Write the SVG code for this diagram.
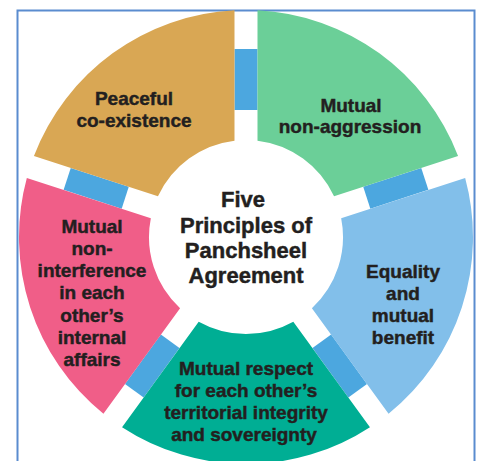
<svg xmlns="http://www.w3.org/2000/svg" xmlns:xlink="http://www.w3.org/1999/xlink" width="477" height="461" viewBox="0 0 477 461">
  <style>
    .lbl { font-family: "Liberation Sans", Arial, sans-serif; font-weight: bold; font-size: 19px; fill: #231F20; stroke: #231F20; stroke-width: 0.45px; text-anchor: middle; }
    .ctr { font-size: 22px; }
    .bar { fill: #4CA7DF; }
  </style>
  <defs>
    <path id="seg" d="M 257.5 10.29 A 227 227 0 0 1 458.06 156.00 L 334.05 196.30 A 97 97 0 0 0 257.5 140.68 Z"/>
    <rect id="barShape" x="234.5" y="49" width="23" height="61"/>
    <rect id="barShapeLow" x="234.5" y="47" width="23" height="61"/>
  </defs>
  <rect x="0" y="0" width="477" height="461" fill="#FFFFFF"/>
  <rect x="17.5" y="10.5" width="457" height="470" fill="#FFFFFF" stroke="#5A8CCF" stroke-width="2"/>

  <g id="connectors">
    <use xlink:href="#barShape" class="bar"/>
    <use xlink:href="#barShape" class="bar" transform="rotate(72 246 237)"/>
    <use xlink:href="#barShapeLow" class="bar" transform="rotate(144 246 237)"/>
    <use xlink:href="#barShapeLow" class="bar" transform="rotate(216 246 237)"/>
    <use xlink:href="#barShape" class="bar" transform="rotate(288 246 237)"/>
  </g>

  <g id="node-non-aggression">
    <use xlink:href="#seg" fill="#6BCF98"/>
    <text class="lbl" x="351" y="112">Mutual</text>
    <text class="lbl" x="350" y="133">non-aggression</text>
  </g>

  <g id="node-equality">
    <use xlink:href="#seg" fill="#82BFEA" transform="rotate(72 246 237)"/>
    <text class="lbl" x="403" y="278">Equality</text>
    <text class="lbl" x="403" y="300">and</text>
    <text class="lbl" x="403" y="322">mutual</text>
    <text class="lbl" x="403" y="344">benefit</text>
  </g>

  <g id="node-territorial">
    <use xlink:href="#seg" fill="#00AE94" transform="rotate(144 246 237)"/>
    <text class="lbl" x="246" y="375">Mutual respect</text>
    <text class="lbl" x="246" y="397">for each other’s</text>
    <text class="lbl" x="246" y="419">territorial integrity</text>
    <text class="lbl" x="244" y="441">and sovereignty</text>
  </g>

  <g id="node-non-interference">
    <use xlink:href="#seg" fill="#F05E88" transform="rotate(216 246 237)"/>
    <text class="lbl" x="92" y="233">Mutual</text>
    <text class="lbl" x="92" y="255">non-</text>
    <text class="lbl" x="92" y="277">interference</text>
    <text class="lbl" x="92" y="299">in each</text>
    <text class="lbl" x="92" y="322">other’s</text>
    <text class="lbl" x="92" y="344">internal</text>
    <text class="lbl" x="92" y="366">affairs</text>
  </g>

  <g id="node-peaceful">
    <use xlink:href="#seg" fill="#D9A754" transform="rotate(288 246 237)"/>
    <text class="lbl" x="134" y="105">Peaceful</text>
    <text class="lbl" x="134" y="127">co-existence</text>
  </g>

  <g id="node-center">
    <text class="lbl ctr" x="243" y="207">Five</text>
    <text class="lbl ctr" x="246" y="233">Principles of</text>
    <text class="lbl ctr" x="246" y="258">Panchsheel</text>
    <text class="lbl ctr" x="246" y="283">Agreement</text>
  </g>
</svg>
